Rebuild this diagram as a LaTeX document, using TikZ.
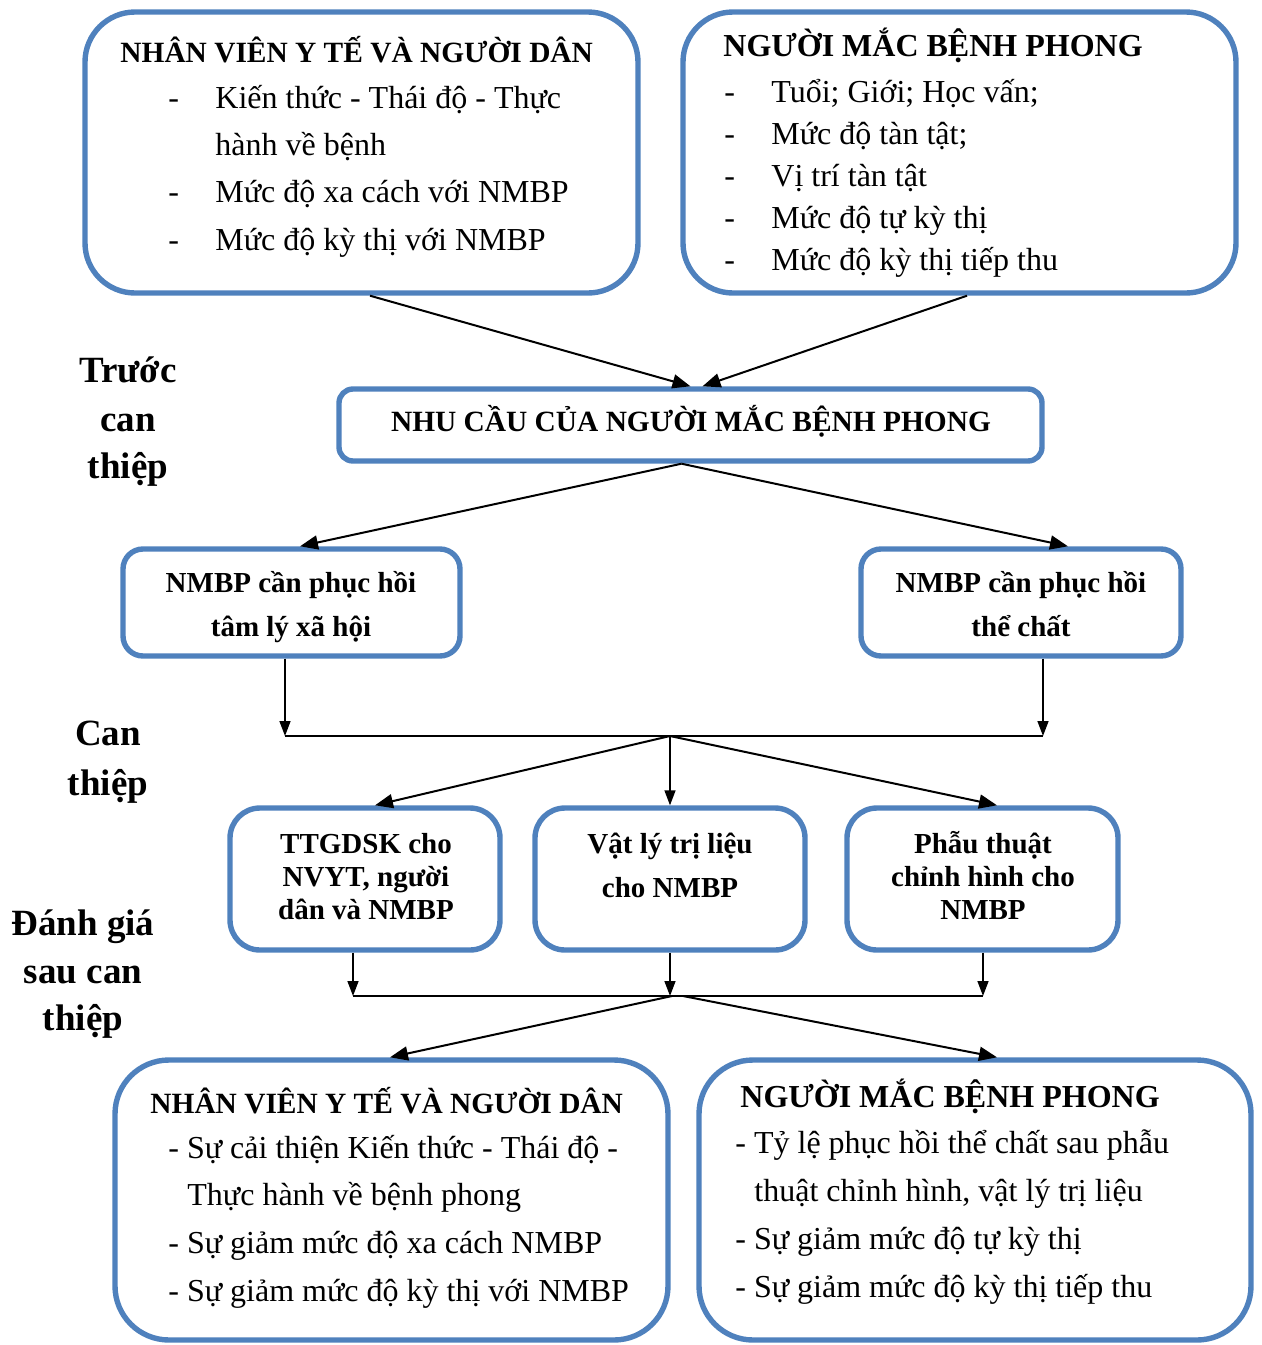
\documentclass[tikz,border=0pt]{standalone}
\usepackage{fontspec}
\setmainfont{Liberation Serif}
\usetikzlibrary{arrows.meta,calc}
\definecolor{boxblue}{RGB}{79,129,189}
\begin{document}
\begin{tikzpicture}[x=0.5pt,y=-0.5pt,
  roundbox/.style={draw=boxblue,line width=2.7pt,rounded corners=#1,inner sep=0pt,fill=white},
  hd/.style={font=\fontsize{14.7}{17}\selectfont\bfseries,anchor=base west,inner sep=0pt},
  hdb/.style={font=\fontsize{16}{19}\selectfont\bfseries,anchor=base west,inner sep=0pt},
  body/.style={font=\fontsize{16}{19}\selectfont,anchor=base west,inner sep=0pt},
  ctr/.style={font=\fontsize{14.5}{17}\selectfont\bfseries,anchor=base,inner sep=0pt},
  lab/.style={font=\fontsize{18.5}{22}\selectfont\bfseries,anchor=base,inner sep=0pt},
  arr/.style={line width=1pt,-{Triangle[length=9pt,width=7pt]}},
  varr/.style={line width=0.75pt,-{Triangle[length=7.5pt,width=5.5pt]}},
  barline/.style={line width=1pt}
]
\useasboundingbox (0,0) rectangle (1262,1345);

% boxes
\node[roundbox=25pt,minimum width=276.5pt,minimum height=140.5pt] (tl) at (361.5,152.5) {};
\node[roundbox=25pt,minimum width=276.5pt,minimum height=140.5pt] (tr) at (959.5,152.5) {};
\node[roundbox=7pt,minimum width=351.5pt,minimum height=36pt] (nhu) at (690.5,425) {};
\node[roundbox=10pt,minimum width=168.5pt,minimum height=53.5pt] (psy) at (291.5,602.5) {};
\node[roundbox=10pt,minimum width=160pt,minimum height=53.5pt] (phy) at (1021,602.5) {};
\node[roundbox=15pt,minimum width=135pt,minimum height=71pt] (tt) at (365,879) {};
\node[roundbox=15pt,minimum width=135pt,minimum height=71pt] (vl) at (670,879) {};
\node[roundbox=15pt,minimum width=135.5pt,minimum height=71pt] (pt) at (982.5,879) {};
\node[roundbox=27pt,minimum width=276.5pt,minimum height=140pt] (bl) at (391.5,1200) {};
\node[roundbox=27pt,minimum width=276pt,minimum height=140pt] (br) at (975,1200) {};

% top-left text
\node[hd] (tlh) at (120,62) {NHÂN VIÊN Y TẾ VÀ NGƯỜI DÂN};
\node[body] (tld1) at (168,108) {-};
\node[body] (tlt1) at (215,108) {Kiến thức - Thái độ - Thực};
\node[body] (tlt1b) at (215,155) {hành về bệnh};
\node[body] (tld2) at (168,202) {-};
\node[body] (tlt2) at (215,202) {Mức độ xa cách với NMBP};
\node[body] (tld3) at (168,250) {-};
\node[body] (tlt3) at (215,250) {Mức độ kỳ thị với NMBP};

% top-right text
\node[hdb] (trh) at (723,56) {NGƯỜI MẮC BỆNH PHONG};
\node[body] (trd1) at (724,102) {-};
\node[body] (trt1) at (771,102) {Tuổi; Giới; Học vấn;};
\node[body] (trd2) at (724,144) {-};
\node[body] (trt2) at (771,144) {Mức độ tàn tật;};
\node[body] (trd3) at (724,186) {-};
\node[body] (trt3) at (771,186) {Vị trí tàn tật};
\node[body] (trd4) at (724,228) {-};
\node[body] (trt4) at (771,228) {Mức độ tự kỳ thị};
\node[body] (trd5) at (724,270) {-};
\node[body] (trt5) at (771,270) {Mức độ kỳ thị tiếp thu};

% middle texts
\node[ctr,font=\fontsize{14.7}{17}\selectfont\bfseries] (nhut) at (691,431) {NHU CẦU CỦA NGƯỜI MẮC BỆNH PHONG};
\node[ctr] (psy1) at (291,592) {NMBP cần phục hồi};
\node[ctr] (psy2) at (291,636) {tâm lý xã hội};
\node[ctr] (phy1) at (1021,592) {NMBP cần phục hồi};
\node[ctr] (phy2) at (1021,636) {thể chất};
\node[ctr] (tt1) at (366,853) {TTGDSK cho};
\node[ctr] (tt2) at (366,886) {NVYT, người};
\node[ctr] (tt3) at (366,919) {dân và NMBP};
\node[ctr] (vl1) at (670,853) {Vật lý trị liệu};
\node[ctr] (vl2) at (670,897) {cho NMBP};
\node[ctr] (pt1) at (983,853) {Phẫu thuật};
\node[ctr] (pt2) at (983,886) {chỉnh hình cho};
\node[ctr] (pt3) at (983,919) {NMBP};

% side labels
\node[lab] (l1a) at (128,382) {Trước};
\node[lab] (l1b) at (128,431) {can};
\node[lab] (l1c) at (128,478) {thiệp};
\node[lab] (l2a) at (108,745) {Can};
\node[lab] (l2b) at (108,795) {thiệp};
\node[lab] (l3a) at (83,935) {Đánh giá};
\node[lab] (l3b) at (83,983) {sau can};
\node[lab] (l3c) at (83,1030) {thiệp};

% bottom-left text
\node[hd] (blh) at (150,1113) {NHÂN VIÊN Y TẾ VÀ NGƯỜI DÂN};
\node[body] (bl1) at (168,1158) {- Sự cải thiện Kiến thức - Thái độ -};
\node[body] (bl1b) at (187,1205) {Thực hành về bệnh phong};
\node[body] (bl2) at (168,1253) {- Sự giảm mức độ xa cách NMBP};
\node[body] (bl3) at (168,1301) {- Sự giảm mức độ kỳ thị với NMBP};

% bottom-right text
\node[hdb] (brh) at (740,1107) {NGƯỜI MẮC BỆNH PHONG};
\node[body] (br1) at (735,1153) {- Tỷ lệ phục hồi thể chất sau phẫu};
\node[body] (br1b) at (754,1201) {thuật chỉnh hình, vật lý trị liệu};
\node[body] (br2) at (735,1249) {- Sự giảm mức độ tự kỳ thị};
\node[body] (br3) at (735,1297) {- Sự giảm mức độ kỳ thị tiếp thu};

% junction coordinates
\coordinate (b1L) at (285,736);
\coordinate (b1R) at (1043,736);
\coordinate (h1) at (670,736);
\coordinate (b2L) at (353,996);
\coordinate (b2R) at (983,996);
\coordinate (h2) at (670,996);
\coordinate (h2a) at (672,996);
\coordinate (h2b) at (683,996);

% arrows
\draw[arr] ($(tl.south)+(8.5,0)$) -- (nhu.north);
\draw[arr] ($(tr.south)+(7.5,0)$) -- ($(nhu.north)+(12,0)$);
\draw[arr] ($(nhu.south)+(-9,0)$) -- ($(psy.north)+(8.5,0)$);
\draw[arr] ($(nhu.south)+(-9,0)$) -- ($(phy.north)+(47,0)$);
\draw[varr] ($(psy.south)+(-6.5,0)$) -- (b1L);
\draw[varr] ($(phy.south)+(22,0)$) -- (b1R);
\draw[barline] (b1L) -- (b1R);
\draw[arr] (h1) -- ($(tt.north)+(10,0)$);
\draw[varr] (h1) -- (vl.north);
\draw[arr] (h1) -- ($(pt.north)+(14.5,0)$);
\draw[varr] ($(tt.south)+(-12,0)$) -- (b2L);
\draw[varr] (vl.south) -- (h2);
\draw[varr] ($(pt.south)+(0.5,0)$) -- (b2R);
\draw[barline] (b2L) -- (b2R);
\draw[arr] (h2a) -- ($(bl.north)+(-1.5,0)$);
\draw[arr] (h2b) -- ($(br.north)+(22,0)$);
\end{tikzpicture}
\end{document}
